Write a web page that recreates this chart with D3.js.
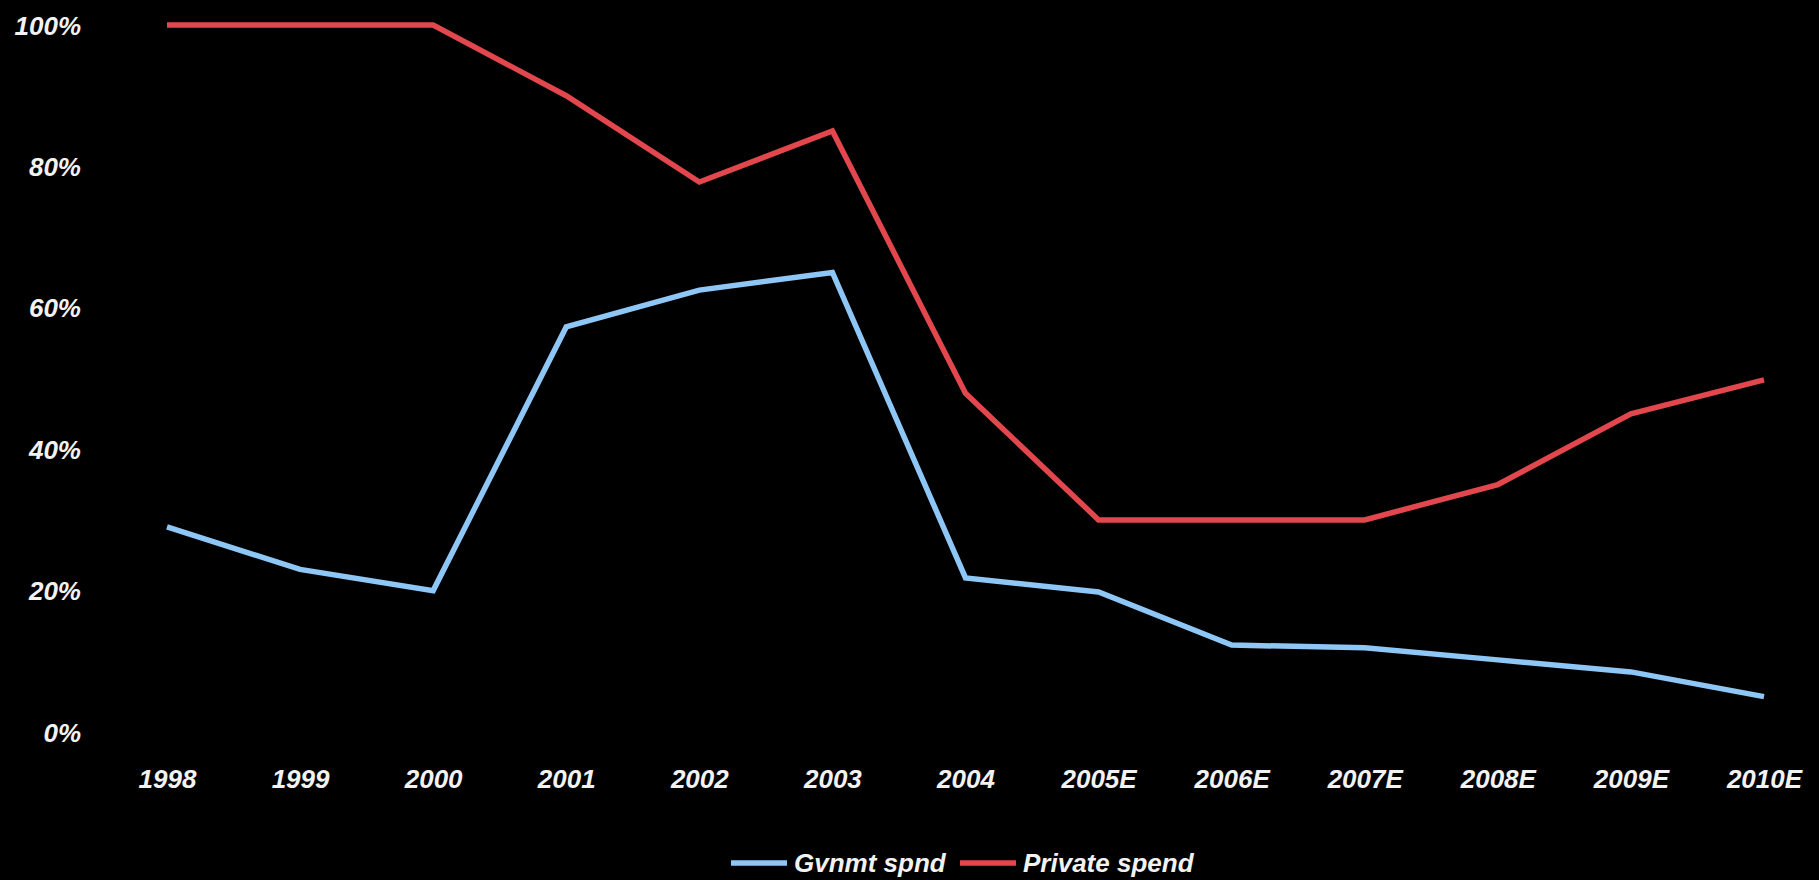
<!DOCTYPE html>
<html><head><meta charset="utf-8">
<script src="https://cdn.jsdelivr.net/npm/d3@7"></script>
<style>
html,body{margin:0;padding:0;background:#000;}
svg{display:block;}
text{font-family:"Liberation Sans",Arial,sans-serif;font-weight:bold;font-style:italic;fill:#f2f2f2;}
</style></head><body>
<svg id="c" width="1819" height="880"></svg>
<script>
const categories = ["1998","1999","2000","2001","2002","2003","2004","2005E","2006E","2007E","2008E","2009E","2010E"];
const govSpend = [29, 23, 20, 57.3, 62.5, 65, 21.8, 19.8, 12.3, 11.9, 10.2, 8.5, 5];
const privateSpend = [100, 100, 100, 90, 77.8, 85, 47.9, 30, 30, 30, 35, 45, 49.8];
const yTicks = [0, 20, 40, 60, 80, 100];
const seriesNames = ["Gvnmt spnd", "Private spend"];
const seriesColors = ["#8ec6f6", "#e2474d"];

const svg = d3.select("#c");
const x = d3.scalePoint().domain(categories).range([167, 1764]);
const y = d3.scaleLinear().domain([0, 100]).range([732, 25]);

// y axis labels
const yAxis = d3.axisLeft(y).tickValues(yTicks).tickFormat(d => d + "%").tickSize(0).tickPadding(0);
const gy = svg.append("g").attr("transform", "translate(81,0)").call(yAxis);
gy.select(".domain").remove();
gy.selectAll("text").attr("font-size", 26).attr("dy", "0.35em").style("font-family", "Liberation Sans, Arial, sans-serif").style("fill", "#f2f2f2");

// x axis labels
const xAxis = d3.axisBottom(x).tickSize(0).tickPadding(0);
const gx = svg.append("g").attr("transform", "translate(0,770)").call(xAxis);
gx.select(".domain").remove();
gx.selectAll("text").attr("font-size", 26).attr("dy", "0.71em").style("font-family", "Liberation Sans, Arial, sans-serif").style("fill", "#f2f2f2");

const line = d3.line().x((d, i) => x(categories[i])).y(d => y(d));
[govSpend, privateSpend].forEach((s, k) => {
  svg.append("path").datum(s).attr("d", line)
    .attr("fill", "none").attr("stroke", seriesColors[k]).attr("stroke-width", 5.5)
    .attr("stroke-linejoin", "miter").attr("stroke-linecap", "butt");
});

// legend
const leg = svg.append("g");
const legItems = [{x: 731, name: seriesNames[0], c: seriesColors[0]}, {x: 960, name: seriesNames[1], c: seriesColors[1]}];
legItems.forEach(it => {
  leg.append("line").attr("x1", it.x).attr("x2", it.x + 56).attr("y1", 863).attr("y2", 863)
    .attr("stroke", it.c).attr("stroke-width", 5.5);
  leg.append("text").attr("x", it.x + 63).attr("y", 863).attr("dy", "0.35em")
    .attr("font-size", 26).text(it.name);
});
</script>
</body></html>
